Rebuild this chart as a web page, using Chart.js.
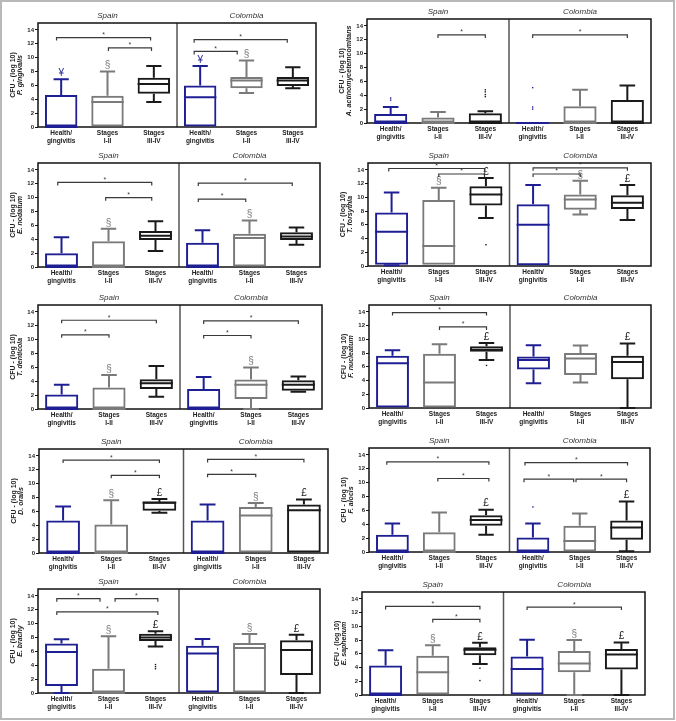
<!DOCTYPE html>
<html>
<head>
<meta charset="utf-8">
<script src="https://cdn.jsdelivr.net/npm/chart.js@4.4.0/dist/chart.umd.min.js"></script>
<style>
  body { margin: 0; background: #fff; }
  #fig { position: relative; width: 676px; height: 721px; }
  #frame { position: absolute; left: 0; top: 0; width: 675px; height: 720px; box-sizing: border-box; border: 2px solid #b8b8b8; }
  #fig canvas { position: absolute; }
</style>
</head>
<body>
<div id="fig"><div id="frame"></div></div>
<script>
const categories = [["Health/", "gingivitis"], ["Stages", "I-II"], ["Stages", "III-IV"], ["Health/", "gingivitis"], ["Stages", "I-II"], ["Stages", "III-IV"]];
const countries = ["Spain", "Colombia"];
const yTicks = [0, 2, 4, 6, 8, 10, 12, 14];
const boxColors = ["#1f1f94", "#7a7a7a", "#1a1a1a", "#1f1f94", "#7a7a7a", "#1a1a1a"];

// each box: [min, q1, median, q3, max]; sig: [from, to, y]
const gingivalisBox = [[0, 0, 0, 4.6, 6.9], [0, 0, 3.6, 4.5, 8.0], [3.6, 4.8, 6.2, 7.1, 8.8], [0, 0, 4.3, 6.0, 8.8], [4.9, 5.6, 6.7, 7.2, 9.6], [5.6, 5.9, 6.7, 7.2, 8.6]];
const gingivalisOut = [[], [], [], [], [], []];
const gingivalisMark = ["¥", "§", "", "¥", "§", ""];
const gingivalisSig = [[-0.1, 1.93, 12.9], [1.02, 1.95, 11.4], [2.87, 4.88, 12.6], [2.87, 3.8, 10.9]];

const actinoBox = [[0, 0, 0, 1.3, 2.3], [0, 0, 0, 0.8, 1.6], [0, 0, 0, 1.4, 1.7], [0, 0, 0, 0, 0], [0, 0, 0, 2.4, 4.8], [0, 0, 0, 3.3, 5.4]];
const actinoOut = [[3.3, 3.6], [], [3.8, 4.1, 4.5, 4.8], [2.0, 2.3, 5.1], [], []];
const actinoMark = ["", "", "", "", "", ""];
const actinoSig = [[1, 2, 12.7], [3, 5, 12.7]];

const nodatumBox = [[0, 0, 0, 2.0, 4.3], [0, 0, 0, 3.7, 5.5], [2.3, 3.9, 4.5, 5.2, 6.6], [0, 0, 0, 3.5, 5.3], [0, 0, 4.2, 4.8, 6.7], [3.2, 3.9, 4.4, 5.0, 5.7]];
const nodatumOut = [[], [], [], [], [], []];
const nodatumMark = ["", "§", "", "", "§", ""];
const nodatumSig = [[-0.08, 1.92, 12.2], [0.94, 1.92, 10.0], [2.91, 4.91, 12.1], [2.91, 3.92, 9.8]];

const forsythiaBox = [[0.1, 0.2, 5.0, 7.8, 10.7], [0.2, 0.2, 2.9, 9.6, 11.4], [7.0, 8.8, 10.4, 11.6, 12.8], [0.1, 0.1, 6.0, 9.0, 11.8], [7.5, 8.2, 9.7, 10.4, 12.4], [6.7, 8.3, 9.2, 10.3, 11.8]];
const forsythiaOut = [[], [], [3.1], [], [], []];
const forsythiaMark = ["", "§", "£", "", "§", "£"];
const forsythiaSig = [[-0.06, 1.97, 14.2], [1, 1.97, 13.4], [3, 5, 14.3], [3, 4, 13.4]];

const denticolaBox = [[0, 0, 0, 2.1, 3.5], [0, 0, 0, 3.1, 4.9], [1.75, 2.9, 3.7, 4.3, 6.2], [0, 0, 0, 2.9, 4.6], [0, 1.45, 3.5, 4.25, 6.0], [2.5, 2.65, 3.5, 4.15, 4.7]];
const denticolaOut = [[], [], [], [], [], []];
const denticolaMark = ["", "§", "", "", "§", ""];
const denticolaSig = [[0, 2, 12.8], [0, 1, 10.7], [3, 5, 12.7], [3, 4, 10.6]];

const nucleatumBox = [[0, 0, 6.5, 7.6, 8.4], [0, 0, 3.7, 7.9, 9.3], [7.0, 8.2, 8.5, 9.0, 9.45], [3.6, 5.6, 7.0, 7.5, 9.15], [3.7, 4.8, 7.2, 8.0, 9.1], [0, 4.2, 6.7, 7.6, 9.4]];
const nucleatumOut = [[], [], [6.2], [], [], []];
const nucleatumMark = ["", "", "£", "", "", "£"];
const nucleatumSig = [[0, 2, 13.9], [1, 2, 11.8]];

const oralisBox = [[0, 0, 0, 4.7, 6.7], [0, 0, 0, 4.1, 7.6], [5.8, 6.1, 7.3, 7.4, 7.8], [0, 0, 0, 4.7, 7.0], [0, 0, 5.4, 6.65, 7.2], [0, 0, 6.15, 7.0, 7.7]];
const oralisOut = [[], [], [], [], [], []];
const oralisMark = ["", "§", "£", "", "§", "£"];
const oralisSig = [[0, 2, 13.4], [1, 2, 11.2], [3, 5, 13.5], [3, 4, 11.35]];

const alocisBox = [[0, 0, 0, 2.5, 4.1], [0, 0, 0, 2.85, 5.7], [2.5, 3.8, 4.6, 5.3, 6.1], [0, 0, 0, 2.1, 4.1], [0, 0, 1.6, 3.8, 5.55], [0.1, 1.75, 3.55, 4.55, 7.3]];
const alocisOut = [[], [], [], [6.5], [], []];
const alocisMark = ["", "", "£", "", "", "£"];
const alocisSig = [[-0.12, 2.06, 13.0], [0.97, 2.06, 10.6], [2.83, 5.02, 12.9], [2.81, 3.87, 10.5], [3.92, 5.0, 10.5]];

const brachyBox = [[0, 1.0, 5.9, 7.15, 7.75], [0, 0, 0, 3.5, 8.2], [6.7, 7.5, 8.0, 8.55, 8.9], [0, 0, 5.7, 6.8, 7.8], [0, 0, 6.5, 7.2, 8.5], [0, 2.6, 6.2, 7.6, 8.4]];
const brachyOut = [[], [], [3.5, 3.8, 4.1], [], [], []];
const brachyMark = ["", "§", "£", "", "§", "£"];
const brachySig = [[-0.1, 0.82, 13.6], [1.14, 2.05, 13.6], [-0.1, 2.05, 11.7]];

const saphenumBox = [[0, 0, 0, 4.3, 6.5], [0, 0, 3.3, 5.7, 7.25], [4.5, 5.8, 6.6, 6.95, 7.6], [0, 0, 3.8, 5.6, 8.05], [0, 3.3, 4.6, 6.4, 8.0], [0, 3.7, 5.9, 6.7, 7.65]];
const saphenumOut = [[], [], [3.9, 2.1], [], [], []];
const saphenumMark = ["", "§", "£", "", "§", "£"];
const saphenumSig = [[0, 2, 12.9], [1, 2, 11.0], [3, 5, 12.8]];

const panels = [
  { name: "P. gingivalis", box: gingivalisBox, out: gingivalisOut, mark: gingivalisMark, sig: gingivalisSig, area: [38, 23, 316, 127] },
  { name: "A. actinomycetemcomitans", box: actinoBox, out: actinoOut, mark: actinoMark, sig: actinoSig, area: [367, 19, 651, 123] },
  { name: "E. nodatum", box: nodatumBox, out: nodatumOut, mark: nodatumMark, sig: nodatumSig, area: [38, 163, 320, 267] },
  { name: "T. forsythia", box: forsythiaBox, out: forsythiaOut, mark: forsythiaMark, sig: forsythiaSig, area: [368, 163, 651, 266] },
  { name: "T. denticola", box: denticolaBox, out: denticolaOut, mark: denticolaMark, sig: denticolaSig, area: [38, 305, 322, 409] },
  { name: "F. nucleatum", box: nucleatumBox, out: nucleatumOut, mark: nucleatumMark, sig: nucleatumSig, area: [369, 305, 651, 408] },
  { name: "D. oralis", box: oralisBox, out: oralisOut, mark: oralisMark, sig: oralisSig, area: [39, 449, 328, 553] },
  { name: "F. alocis", box: alocisBox, out: alocisOut, mark: alocisMark, sig: alocisSig, area: [369, 448, 650, 552] },
  { name: "E. brachy", box: brachyBox, out: brachyOut, mark: brachyMark, sig: brachySig, area: [38, 589, 320, 693] },
  { name: "E. saphenum", box: saphenumBox, out: saphenumOut, mark: saphenumMark, sig: saphenumSig, area: [362, 592, 645, 695] },
];

const FONT = "'Liberation Sans', Arial, sans-serif";
Chart.defaults.font.family = FONT;

const boxPlot = {
  id: "boxPlot",
  beforeDatasetsDraw: function (chart, args, opts) {
    const ctx = chart.ctx, a = chart.chartArea, x = chart.scales.x;
    ctx.save();
    // divider between countries
    const xd = (x.getPixelForValue(2) + x.getPixelForValue(3)) / 2;
    ctx.strokeStyle = "#555";
    ctx.lineWidth = 1.5;
    ctx.beginPath();
    ctx.moveTo(xd, a.top);
    ctx.lineTo(xd, a.bottom);
    ctx.stroke();
    ctx.strokeStyle = "#111";
    ctx.strokeRect(a.left, a.top, a.right - a.left, a.bottom - a.top);

    ctx.fillStyle = "#333";
    ctx.font = "italic 8px " + FONT;
    ctx.textAlign = "center";
    ctx.textBaseline = "bottom";
    countries.forEach(function (c, i) {
      ctx.fillText(c, x.getPixelForValue(1 + 3 * i), a.top - 3);
    });

    ctx.translate(a.left - 25, (a.top + a.bottom) / 2);
    ctx.rotate(-Math.PI / 2);
    ctx.fillStyle = "#222";
    ctx.textBaseline = "middle";
    ctx.font = "bold 7px " + FONT;
    ctx.fillText("CFU - (log 10)", 0, 0);
    ctx.font = "italic bold 7px " + FONT;
    ctx.fillText(opts.name, 0, 7.5);
    ctx.restore();
  },
  afterDatasetsDraw: function (chart, args, opts) {
    const ctx = chart.ctx, x = chart.scales.x, y = chart.scales.y;
    const bars = chart.getDatasetMeta(0).data;
    ctx.save();
    opts.box.forEach(function (b, i) {
      const cx = bars[i].x, hw = bars[i].width / 2, cap = hw * 0.47;
      ctx.strokeStyle = boxColors[i];
      ctx.fillStyle = boxColors[i];
      ctx.lineWidth = 2;
      ctx.beginPath();
      // median
      ctx.moveTo(cx - hw, y.getPixelForValue(b[2]));
      ctx.lineTo(cx + hw, y.getPixelForValue(b[2]));
      // upper whisker
      if (b[4] > b[3]) {
        ctx.moveTo(cx, y.getPixelForValue(b[3]));
        ctx.lineTo(cx, y.getPixelForValue(b[4]));
        ctx.moveTo(cx - cap, y.getPixelForValue(b[4]));
        ctx.lineTo(cx + cap, y.getPixelForValue(b[4]));
      }
      // lower whisker
      if (b[0] < b[1]) {
        ctx.moveTo(cx, y.getPixelForValue(b[1]));
        ctx.lineTo(cx, y.getPixelForValue(b[0]));
        ctx.moveTo(cx - cap, y.getPixelForValue(b[0]));
        ctx.lineTo(cx + cap, y.getPixelForValue(b[0]));
      }
      ctx.stroke();
      opts.out[i].forEach(function (v) {
        ctx.fillRect(cx - 0.7, y.getPixelForValue(v) - 0.7, 1.4, 1.4);
      });
      if (opts.mark[i]) {
        ctx.font = "10px " + FONT;
        ctx.textAlign = "center";
        ctx.textBaseline = "bottom";
        ctx.fillText(opts.mark[i], cx, y.getPixelForValue(b[4]) - 1);
      }
    });
    // significance brackets
    ctx.strokeStyle = "#3a3a3a";
    ctx.fillStyle = "#3a3a3a";
    ctx.lineWidth = 1.2;
    ctx.font = "7px " + FONT;
    ctx.textAlign = "center";
    ctx.textBaseline = "bottom";
    opts.sig.forEach(function (s) {
      const x1 = x.getPixelForValue(s[0]), x2 = x.getPixelForValue(s[1]), yp = y.getPixelForValue(s[2]);
      ctx.beginPath();
      ctx.moveTo(x1, yp + 3);
      ctx.lineTo(x1, yp);
      ctx.lineTo(x2, yp);
      ctx.lineTo(x2, yp + 3);
      ctx.stroke();
      ctx.fillText("*", (x1 + x2) / 2, yp + 1);
    });
    ctx.restore();
  },
};

const fig = document.getElementById("fig");

panels.forEach(function (p) {
  const L = p.area[0], T = p.area[1], R = p.area[2], B = p.area[3];
  const canvas = document.createElement("canvas");
  canvas.width = R - L + 42;
  canvas.height = B - T + 54;
  canvas.style.left = (L - 38) + "px";
  canvas.style.top = (T - 24) + "px";
  fig.appendChild(canvas);

  new Chart(canvas, {
    type: "bar",
    data: {
      labels: categories,
      datasets: [
        {
          data: p.box.map(function (b) { return [b[1], b[3]]; }),
          backgroundColor: "rgba(0, 0, 0, 0)",
          borderColor: boxColors,
          borderWidth: 2,
          borderSkipped: false,
          barPercentage: 0.7,
          categoryPercentage: 1,
        },
      ],
    },
    options: {
      responsive: false,
      animation: false,
      layout: { padding: { top: 24, right: 4, left: 0, bottom: 0 } },
      plugins: {
        legend: { display: false },
        tooltip: { enabled: false },
        boxPlot: p,
      },
      scales: {
        x: {
          grid: { display: false, drawTicks: false },
          border: { display: false },
          ticks: { color: "#222", font: { size: 6.5, weight: "bold", lineHeight: 1.1 }, padding: 3, maxRotation: 0, autoSkip: false },
          afterFit: function (scale) { scale.height = 30; },
        },
        y: {
          min: 0,
          max: 15,
          grid: { drawOnChartArea: false, tickLength: 3, color: "#111", lineWidth: 1 },
          border: { display: false },
          ticks: { color: "#222", font: { size: 6, weight: "bold" }, padding: 1 },
          afterBuildTicks: function (scale) {
            scale.ticks = yTicks.map(function (v) { return { value: v }; });
          },
          afterFit: function (scale) { scale.width = 38; },
        },
      },
    },
    plugins: [boxPlot],
  });
});
</script>
</body>
</html>
